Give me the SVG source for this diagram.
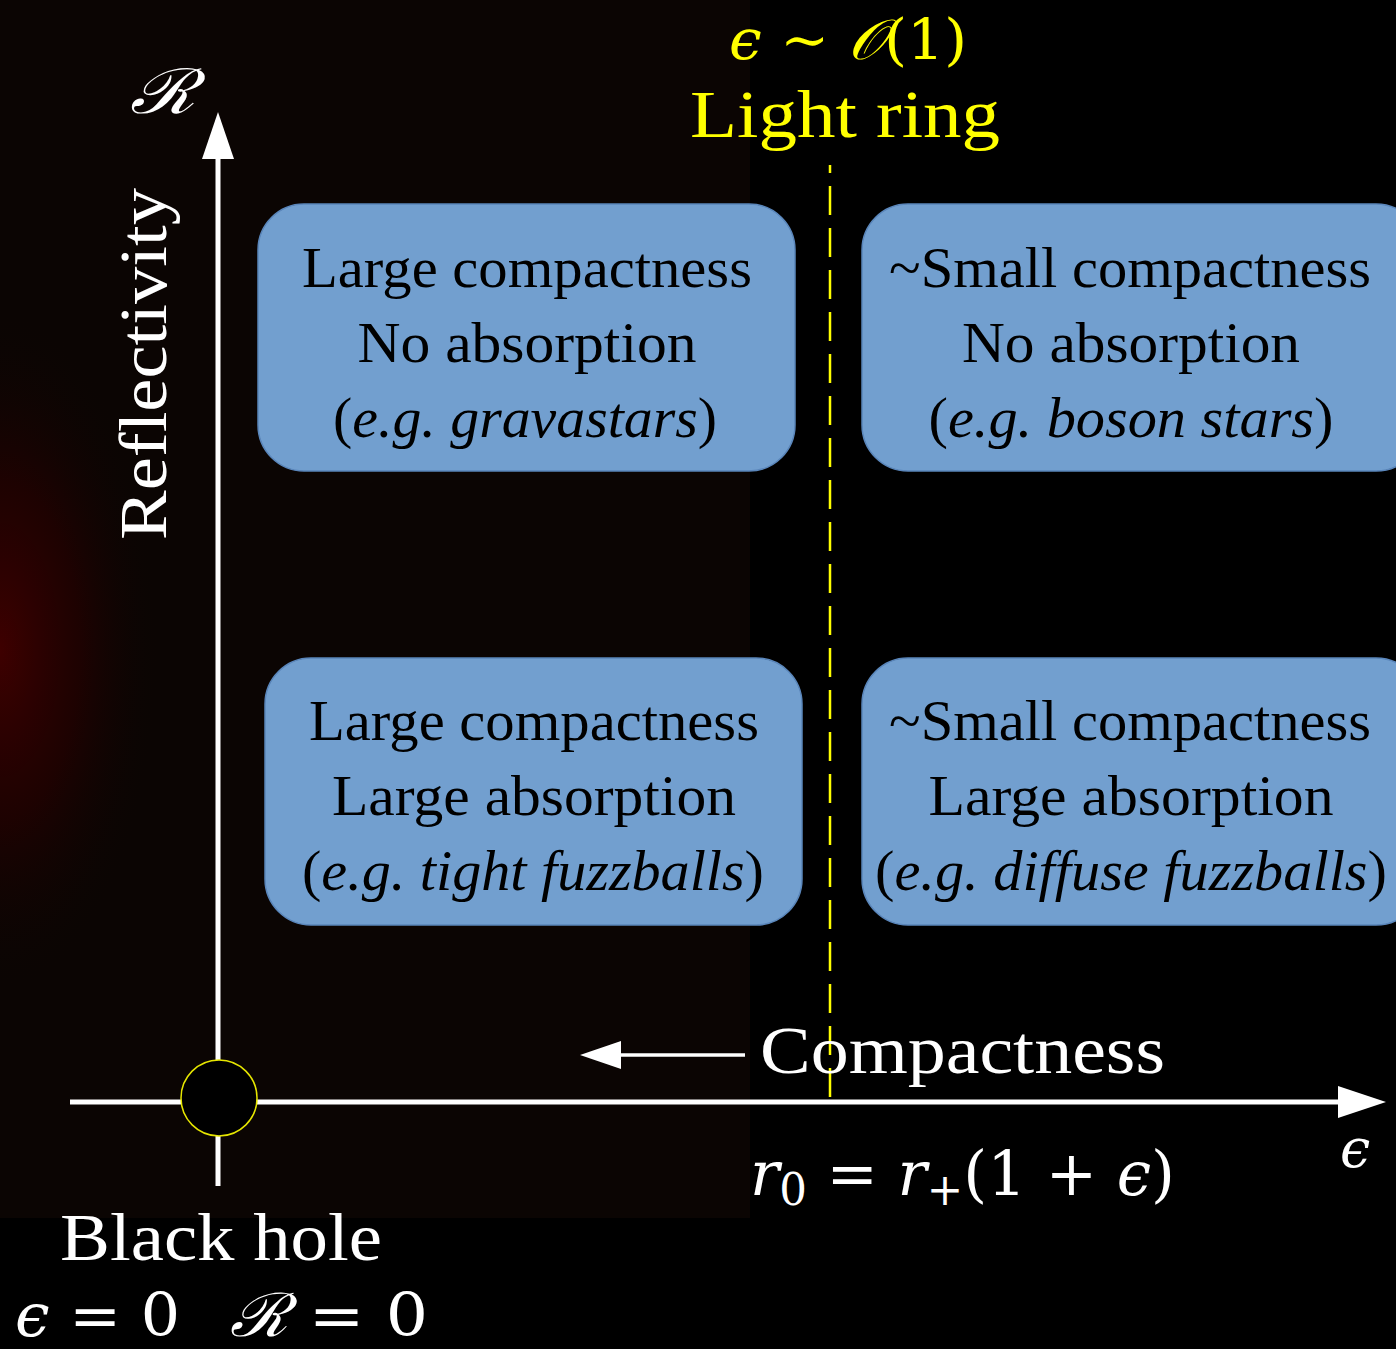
<svg xmlns="http://www.w3.org/2000/svg" width="1396" height="1349" viewBox="0 0 1396 1349">
<defs>
<radialGradient id="glow" cx="0" cy="650" r="1" gradientUnits="userSpaceOnUse" gradientTransform="translate(0 650) scale(160 340) translate(0 -650)">
<stop offset="0" stop-color="#3e0000" stop-opacity="1"/>
<stop offset="0.5" stop-color="#2a0000" stop-opacity="0.6"/>
<stop offset="1" stop-color="#0b0503" stop-opacity="0"/>
</radialGradient>
<style>
.box{fill:#729fcf;stroke:#5a86bb;stroke-width:1.5}
.bt{font-family:"Liberation Serif","DejaVu Serif",serif;font-size:58px;fill:#000;text-anchor:middle}
.it{font-style:italic}
.w{font-family:"Liberation Serif","DejaVu Serif",serif;fill:#fff}
.y{font-family:"Liberation Serif","DejaVu Serif",serif;fill:#ffff00}
.math{font-family:"DejaVu Serif","Liberation Serif",serif}
.ax{stroke:#fff;stroke-width:5;fill:none}
</style>
</defs>
<rect x="0" y="0" width="1396" height="1349" fill="#000"/>
<rect x="0" y="0" width="750" height="1218" fill="#0b0503"/>
<rect x="0" y="300" width="300" height="700" fill="url(#glow)"/>

<g id="connectors">
<line class="ax" x1="218" y1="1186" x2="218" y2="150"/>
<polygon points="218,112 202,159 234,159" fill="#fff"/>
<line class="ax" x1="70" y1="1102" x2="1345" y2="1102"/>
<polygon points="1386,1102 1338,1086 1338,1118" fill="#fff"/>
<line x1="830" y1="165" x2="830" y2="1102" stroke="#ffff00" stroke-width="2.5" stroke-dasharray="29 13" stroke-dashoffset="21"/>
<line x1="745" y1="1055" x2="612" y2="1055" stroke="#fff" stroke-width="3.5"/>
<polygon points="580,1055 621,1041 621,1069" fill="#fff"/>
</g>

<g id="blackhole">
<circle cx="219" cy="1098" r="38" fill="#000" stroke="#e6e600" stroke-width="1.5"/>
</g>

<g id="box-tl">
<rect class="box" x="258" y="204" width="537" height="267" rx="46"/>
<text class="bt" x="527" y="287" textLength="450" lengthAdjust="spacingAndGlyphs">Large compactness</text>
<text class="bt" x="527" y="362" textLength="339" lengthAdjust="spacingAndGlyphs">No absorption</text>
<text class="bt" x="525" y="437" textLength="384" lengthAdjust="spacingAndGlyphs">(<tspan class="it">e.g. gravastars</tspan>)</text>
</g>

<g id="box-tr">
<rect class="box" x="862" y="204" width="560" height="267" rx="46"/>
<text class="bt" x="1130" y="287" textLength="482" lengthAdjust="spacingAndGlyphs">~Small compactness</text>
<text class="bt" x="1131" y="362" textLength="338" lengthAdjust="spacingAndGlyphs">No absorption</text>
<text class="bt" x="1131" y="437" textLength="405" lengthAdjust="spacingAndGlyphs">(<tspan class="it">e.g. boson stars</tspan>)</text>
</g>

<g id="box-bl">
<rect class="box" x="265" y="658" width="537" height="267" rx="46"/>
<text class="bt" x="534" y="740" textLength="450" lengthAdjust="spacingAndGlyphs">Large compactness</text>
<text class="bt" x="534" y="815" textLength="404" lengthAdjust="spacingAndGlyphs">Large absorption</text>
<text class="bt" x="533" y="890" textLength="462" lengthAdjust="spacingAndGlyphs">(<tspan class="it">e.g. tight fuzzballs</tspan>)</text>
</g>

<g id="box-br">
<rect class="box" x="862" y="658" width="560" height="267" rx="46"/>
<text class="bt" x="1130" y="740" textLength="482" lengthAdjust="spacingAndGlyphs">~Small compactness</text>
<text class="bt" x="1131" y="815" textLength="405" lengthAdjust="spacingAndGlyphs">Large absorption</text>
<text class="bt" x="1131" y="890" textLength="512" lengthAdjust="spacingAndGlyphs">(<tspan class="it">e.g. diffuse fuzzballs</tspan>)</text>
</g>

<g id="labels">
<text class="y math" x="848" y="59" font-size="56" text-anchor="middle" textLength="238" lengthAdjust="spacingAndGlyphs"><tspan font-style="italic">ϵ</tspan> ∼ <tspan font-style="italic">𝒪</tspan>(1)</text>
<text class="y" x="845" y="137" font-size="68" text-anchor="middle" textLength="310" lengthAdjust="spacingAndGlyphs">Light ring</text>
<text class="w math" x="130" y="113" font-size="62" font-style="italic" textLength="65" lengthAdjust="spacingAndGlyphs">ℛ</text>
<text class="w" transform="translate(166 540) rotate(-90)" x="0" y="0" font-size="68" textLength="352" lengthAdjust="spacingAndGlyphs">Reflectivity</text>
<text class="w" x="760" y="1073" font-size="68" textLength="405" lengthAdjust="spacingAndGlyphs">Compactness</text>
<text class="w math" x="1340" y="1167" font-size="54" font-style="italic">ϵ</text>
<text class="w math" x="750" y="1195" font-size="62" textLength="425" lengthAdjust="spacingAndGlyphs"><tspan font-style="italic">r</tspan><tspan font-size="44" dy="10">0</tspan><tspan dy="-10"> = </tspan><tspan font-style="italic">r</tspan><tspan font-size="44" dy="10">+</tspan><tspan dy="-10">(1 + </tspan><tspan font-style="italic">ϵ</tspan>)</text>
<text class="w" x="60" y="1260" font-size="68" textLength="322" lengthAdjust="spacingAndGlyphs">Black hole</text>
<text class="w math" x="15" y="1336" font-size="60" textLength="165" lengthAdjust="spacingAndGlyphs"><tspan font-style="italic">ϵ</tspan> = 0</text>
<text class="w math" x="230" y="1336" font-size="60" textLength="198" lengthAdjust="spacingAndGlyphs"><tspan font-style="italic">ℛ</tspan> = 0</text>
</g>
</svg>
